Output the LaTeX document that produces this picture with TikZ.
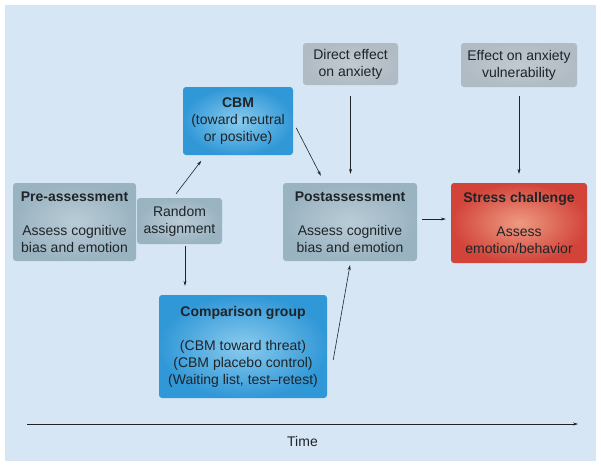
\documentclass[tikz,border=0pt]{standalone}
\usepackage{fontspec}
\setmainfont{Liberation Sans}
\usetikzlibrary{arrows.meta}

\definecolor{bgblue}{HTML}{D6E6F5}
\definecolor{txtdark}{HTML}{1E2428}
\definecolor{grayin}{HTML}{BACCD6}
\definecolor{grayout}{HTML}{9AB3C1}
\definecolor{paleIn}{HTML}{C2CAD0}
\definecolor{paleOut}{HTML}{B0BBC4}
\definecolor{blueIn}{HTML}{8ACBEE}
\definecolor{blueOut}{HTML}{3198D7}
\definecolor{redIn}{HTML}{EE9A82}
\definecolor{redOut}{HTML}{D2443A}

\tikzset{
  box/.style={rectangle, rounded corners=3pt, align=center, inner sep=0pt,
    text=txtdark, font=\fontsize{14}{17}\selectfont},
  assessbox/.style={box, inner color=grayin, outer color=grayout},
  effectbox/.style={box, inner color=paleIn, outer color=paleOut},
  cbmbox/.style={box, inner color=blueIn, outer color=blueOut},
  stressbox/.style={box, inner color=redIn, outer color=redOut},
  arr/.style={-{Stealth[length=5pt,width=3pt]}, draw=txtdark, line width=0.6pt}
}

\begin{document}
\begin{tikzpicture}[x=1pt, y=-1pt]
  \useasboundingbox (0,0) rectangle (601,467);
  \fill[bgblue] (5,5) rectangle (596,461);

  \node[assessbox, minimum width=123pt, minimum height=78pt] (pre) at (74.5,222)
    {\textbf{Pre-assessment}\\[17pt]Assess cognitive\\bias and emotion};
  \node[assessbox, minimum width=85pt, minimum height=46pt] (random) at (179.5,221)
    {Random\\assignment};
  \node[cbmbox, minimum width=110pt, minimum height=68pt] (cbm) at (238,121)
    {\textbf{CBM}\\(toward neutral\\or positive)};
  \node[cbmbox, minimum width=168pt, minimum height=103pt] (comp) at (243,346.5)
    {\textbf{Comparison group}\\[17pt](CBM toward threat)\\(CBM placebo control)\\(Waiting list, test--retest)};
  \node[effectbox, minimum width=95pt, minimum height=42pt] (direct) at (350.5,64)
    {Direct effect\\on anxiety};
  \node[effectbox, minimum width=116pt, minimum height=44pt] (vuln) at (519,65)
    {Effect on anxiety\\vulnerability};
  \node[assessbox, minimum width=134pt, minimum height=78pt] (post) at (350,222)
    {\textbf{Postassessment}\\[17pt]Assess cognitive\\bias and emotion};
  \node[stressbox, minimum width=136pt, minimum height=80pt] (stress) at (519,223)
    {\textbf{Stress challenge}\\[17pt]Assess\\emotion/behavior};

  \draw[arr, shorten <=5pt, shorten >=7pt] ([xshift=-6.5pt]random.north) -- ([xshift=-32.5pt]cbm.south);
  \draw[arr, shorten <=2pt, shorten >=9pt] ([xshift=5.5pt]random.south) -- ([xshift=5.5pt]random.south |- comp.north);
  \draw[arr, shorten <=6.5pt, shorten >=8pt] ([yshift=-1pt]cbm.east) -- ([xshift=-25.5pt]post.north);
  \draw[arr, shorten <=11pt, shorten >=9pt] (direct.south) -- (direct.south |- post.north);
  \draw[arr, shorten <=9pt, shorten >=9pt] (vuln.south) -- (vuln.south |- stress.north);
  \draw[arr, shorten <=5pt, shorten >=5pt] ([yshift=3pt]post.east) -- ([yshift=3pt]post.east -| stress.west);
  \draw[arr, shorten >=4pt] ([xshift=6pt, yshift=-13.5pt]comp.east) -- ([xshift=0.7pt]post.south);

  \coordinate (t0) at (27,424);
  \coordinate (t1) at (578,424);
  \draw[arr] (t0) -- (t1) node[midway, below=9pt, text=txtdark, font=\fontsize{14}{17}\selectfont] (time) {Time};
\end{tikzpicture}
\end{document}
